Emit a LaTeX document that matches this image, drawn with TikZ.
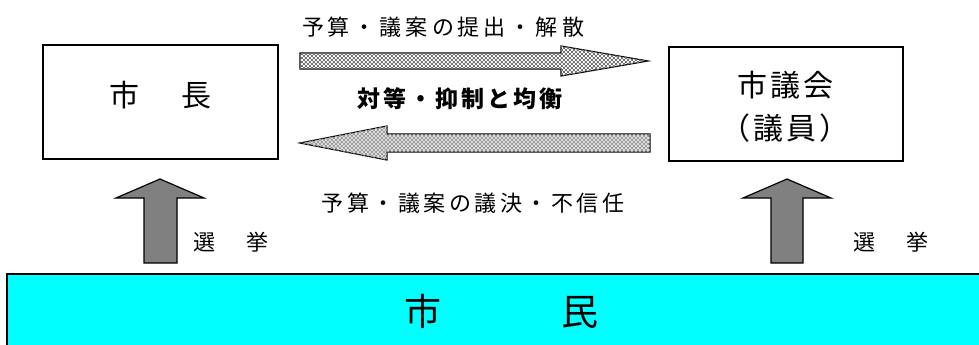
\documentclass[tikz,border=0pt]{standalone}
\usepackage{fontspec}
\newfontfamily\jp{Noto Sans CJK JP}
\usetikzlibrary{patterns}
\pgfdeclarepatternformonly{finecheck}{\pgfpointorigin}{\pgfqpoint{4.4pt}{4.4pt}}{\pgfqpoint{4.4pt}{4.4pt}}{%
  \pgfpathrectangle{\pgfpointorigin}{\pgfqpoint{2.2pt}{2.2pt}}%
  \pgfpathrectangle{\pgfqpoint{2.2pt}{2.2pt}}{\pgfqpoint{2.2pt}{2.2pt}}%
  \pgfusepath{fill}}
\newcommand\cw{25pt}
\newcommand\spreadtxt[2]{\renewcommand\cw{#1}\spreadloop#2\relax}
\def\spreadloop#1{\ifx\relax#1\else\makebox[\cw]{#1}\expandafter\spreadloop\fi}
\definecolor{citycyan}{HTML}{00FFFF}
\tikzset{
  box/.style={draw=black, line width=1.3pt, fill=white},
  blockarrow/.style={draw=black, line width=1.2pt, line join=miter},
  uparrow/.style={blockarrow, fill=black!50},
  lbl/.style={inner sep=0pt, font=\jp\fontsize{22}{22}\selectfont},
}
\begin{document}
\begin{tikzpicture}[x=1pt,y=-1pt]
\useasboundingbox (0,0) rectangle (979,345);
% citizens
\begin{scope}
\clip (0,0) rectangle (979,345);
\draw[draw=black, line width=1.6pt, fill=citycyan] (7,274) rectangle (995,360);
\end{scope}
\node[inner sep=0pt, font=\jp\fontsize{37}{37}\selectfont] (shimin) at (501,311) {市\hspace{120pt}民};
% boxes
\draw[box] (43,45) rectangle (278,159);
\node[inner sep=0pt, font=\jp\fontsize{30}{30}\selectfont] (shicho) at (160,95) {市\hspace{42pt}長};
\draw[box] (669,47) rectangle (903,161);
\node[inner sep=0pt, font=\jp\fontsize{30}{30}\selectfont] (gikai) at (785,85) {\spreadtxt{33pt}{市議会}};
\node[inner sep=0pt, font=\jp\fontsize{30}{30}\selectfont] (giin) at (785,128) {\spreadtxt{33pt}{（議員）}};
% horizontal arrows
\draw[blockarrow, fill=white, postaction={pattern=finecheck, pattern color=black!55}]
  (300,53) -- (561,53) -- (561,46) -- (648,61) -- (561,76) -- (561,69) -- (300,69) -- cycle;
\draw[blockarrow, fill=black!12, postaction={pattern=finecheck, pattern color=black!38}]
  (650,134) -- (387,134) -- (387,126) -- (300,143) -- (387,160) -- (387,152) -- (650,152) -- cycle;
\node[lbl] (teishutsu) at (443,27) {\spreadtxt{26pt}{予算・議案の提出・解散}};
\node[inner sep=0pt, font=\jp\bfseries\fontsize{23}{23}\selectfont] (taito) at (460,99) {\spreadtxt{26pt}{対等・抑制と均衡}};
\node[lbl] (giketsu) at (473,203) {\spreadtxt{25.5pt}{予算・議案の議決・不信任}};
% up arrows
\draw[uparrow] (144,263) -- (144,198) -- (116,198) -- (160,179) -- (204,198) -- (177,198) -- (177,263) -- cycle;
\draw[uparrow] (771,263) -- (771,198) -- (743,198) -- (787,179) -- (831,198) -- (803,198) -- (803,263) -- cycle;
\node[lbl] (senkyo1) at (230.5,242) {選\hspace{31pt}挙};
\node[lbl] (senkyo2) at (891,242) {選\hspace{31pt}挙};
\end{tikzpicture}
\end{document}
